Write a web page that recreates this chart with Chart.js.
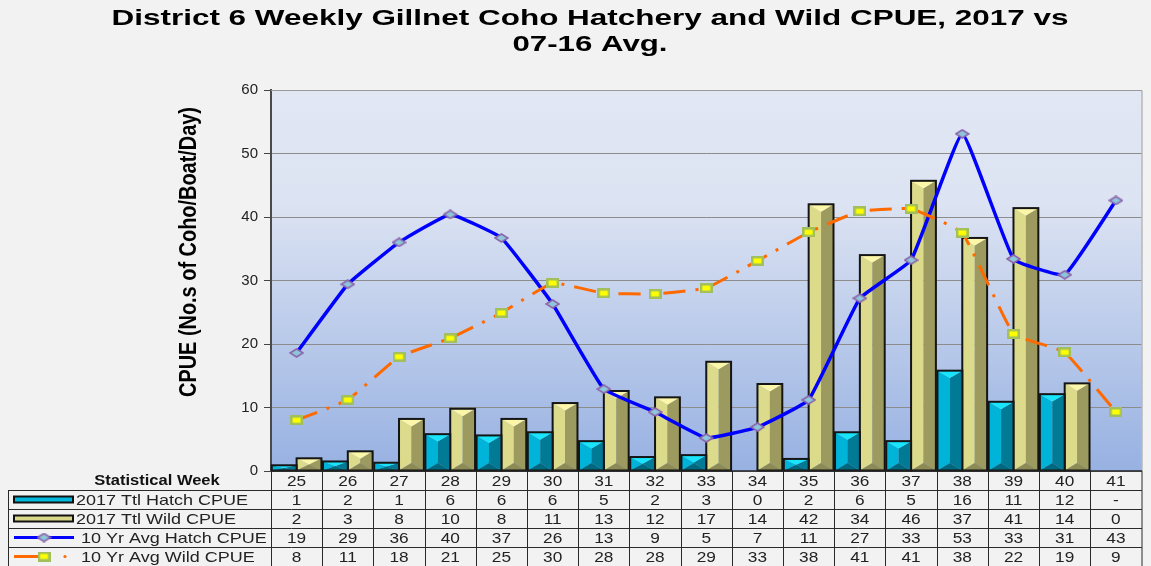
<!DOCTYPE html>
<html>
<head>
<meta charset="utf-8">
<script src="https://cdn.jsdelivr.net/npm/chart.js@4"></script>
<style>
  html, body { margin: 0; padding: 0; background: #f2f2f2; }
</style>
</head>
<body>
<canvas id="coho-cpue" width="1151" height="566"></canvas>
<script>
// statistical weeks and CPUE values
let weeks = [25, 26, 27, 28, 29, 30, 31, 32, 33, 34, 35, 36, 37, 38, 39, 40, 41];
let hatch2017 = [0.9, 1.5, 1.3, 5.8, 5.6, 6.1, 4.7, 2.2, 2.5, 0, 1.9, 6.1, 4.7, 15.8, 10.9, 12.1, null];
let wild2017 = [2.0, 3.1, 8.2, 9.8, 8.2, 10.7, 12.6, 11.6, 17.2, 13.7, 42.0, 34.0, 45.7, 36.7, 41.4, 13.8, 0];
let hatchAvg = [18.6, 29.4, 36.0, 40.4, 36.7, 26.3, 12.9, 9.3, 5.2, 6.9, 11.2, 27.2, 33.2, 53.1, 33.4, 30.9, 42.6];
let wildAvg = [8.0, 11.2, 18.0, 20.9, 24.9, 29.6, 28.0, 27.9, 28.8, 33.1, 37.6, 40.9, 41.3, 37.5, 21.6, 18.7, 9.3];
let yTicks = [0, 10, 20, 30, 40, 50, 60];

let seriesNames = ["2017 Ttl Hatch CPUE", "2017 Ttl Wild CPUE", "10 Yr Avg Hatch CPUE", "10 Yr Avg Wild CPUE"];
let titleLines = ["District 6 Weekly Gillnet Coho Hatchery and Wild CPUE, 2017 vs", "07-16 Avg."];
let yTitle = "CPUE (No.s of Coho/Boat/Day)";
let weekHeader = "Statistical Week";

const FONT = "'Liberation Sans', Arial, sans-serif";

let hatchShade = { left: "#00b3d8", right: "#007a95", top: "#18e4fb", bottom: "#00687f", flat: "#00b8dc" };
let wildShade = { left: "#dcdb8b", right: "#9c9a5e", top: "#fbf6a8", bottom: "#8c8a55", flat: "#d8d78a" };

// little marker pictures for the line series
function diamondMarker() {
  let c = document.createElement("canvas");
  c.width = 15; c.height = 10;
  let g = c.getContext("2d");
  g.beginPath();
  g.moveTo(1, 5); g.lineTo(7.5, 1); g.lineTo(14, 5); g.lineTo(7.5, 9); g.closePath();
  g.fillStyle = "#8ec6dc"; g.fill();
  g.strokeStyle = "#8a64a8"; g.lineWidth = 1.5; g.stroke();
  return c;
}
function squareMarker() {
  let c = document.createElement("canvas");
  c.width = 13; c.height = 10;
  let g = c.getContext("2d");
  g.fillStyle = "#a2bf5c"; g.fillRect(0, 0, 13, 10);
  g.fillStyle = "#ffff00"; g.fillRect(2.5, 2.5, 8, 5);
  return c;
}
let diamondPic = diamondMarker();
let squarePic = squareMarker();

function poly(ctx, pts, color) {
  ctx.beginPath();
  ctx.moveTo(pts[0][0], pts[0][1]);
  for (let k = 1; k < pts.length; k++) ctx.lineTo(pts[k][0], pts[k][1]);
  ctx.closePath();
  ctx.fillStyle = color;
  ctx.fill();
}

function stretchText(ctx, text, x, y, sx, align) {
  ctx.save();
  ctx.translate(x, y);
  ctx.scale(sx, 1);
  ctx.textAlign = align;
  ctx.fillText(text, 0, 0);
  ctx.restore();
}

// background page + plot gradient
let backdrop = {
  id: "backdrop",
  beforeDraw(chart) {
    let ctx = chart.ctx, a = chart.chartArea;
    ctx.save();
    ctx.fillStyle = "#f2f2f2";
    ctx.fillRect(0, 0, chart.width, chart.height);
    let grad = ctx.createLinearGradient(0, a.top, 0, a.bottom);
    grad.addColorStop(0, "#e1e7f3");
    grad.addColorStop(0.3, "#dce3f2");
    grad.addColorStop(1, "#97b1e2");
    ctx.fillStyle = grad;
    ctx.fillRect(a.left, a.top, a.right - a.left, a.bottom - a.top);
    ctx.restore();
  }
};

// 3d-ish bevelled bars on top of the library's bar elements
let bevelBars = {
  id: "bevelBars",
  afterDatasetDraw(chart, args) {
    let meta = args.meta;
    if (meta.type !== "bar") return;
    let ds = chart.data.datasets[args.index];
    let shade = ds.shade;
    let ctx = chart.ctx;
    ctx.save();
    meta.data.forEach((bar, i) => {
      let v = ds.data[i];
      if (v == null || v === 0) return;
      let p = bar.getProps(["x", "y", "base", "width"], true);
      let L = p.x - p.width / 2, R = p.x + p.width / 2;
      let T = Math.min(p.y, p.base), B = Math.max(p.y, p.base);
      let d = Math.min(p.width * 0.3, (B - T) / 2);
      let cx = p.x;
      poly(ctx, [[L, T], [cx, T + d], [cx, B - d], [L, B]], shade.left);
      poly(ctx, [[R, T], [cx, T + d], [cx, B - d], [R, B]], shade.right);
      poly(ctx, [[L, T], [R, T], [cx, T + d]], shade.top);
      poly(ctx, [[L, B], [R, B], [cx, B - d]], shade.bottom);
      ctx.strokeStyle = "#151515";
      ctx.lineWidth = 2;
      ctx.strokeRect(L, T, R - L, B - T);
    });
    ctx.restore();
  }
};

// title, y title, plot frame and data table below the plot
let tableAndText = {
  id: "tableAndText",
  afterDraw(chart) {
    let ctx = chart.ctx, a = chart.chartArea;
    ctx.save();

    // plot frame
    ctx.strokeStyle = "#9a9a9a";
    ctx.lineWidth = 1;
    ctx.beginPath();
    ctx.moveTo(a.left, a.top + 0.5); ctx.lineTo(a.right + 0.5, a.top + 0.5);
    ctx.lineTo(a.right + 0.5, a.bottom);
    ctx.stroke();

    // title
    ctx.fillStyle = "#000";
    ctx.textBaseline = "middle";
    ctx.font = "bold 22px " + FONT;
    let w1 = ctx.measureText(titleLines[0]).width;
    stretchText(ctx, titleLines[0], 590, 19, 957 / w1, "center");
    let w2 = ctx.measureText(titleLines[1]).width;
    stretchText(ctx, titleLines[1], 590, 45, 155 / w2, "center");

    // y axis title
    ctx.save();
    ctx.font = "bold 20px " + FONT;
    ctx.translate(190, 252);
    ctx.rotate(-Math.PI / 2);
    let wy = ctx.measureText(yTitle).width;
    ctx.scale(290 / wy, 1.15);
    ctx.textAlign = "center";
    ctx.fillText(yTitle, 0, 0);
    ctx.restore();

    // table
    let n = weeks.length;
    let colW = (a.right - a.left) / n;
    let rowH = 19;
    let top = a.bottom;
    let tableLeft = 8;
    let right = a.right + 0.5;
    let bottom = top + rowH * 5;

    ctx.strokeStyle = "#2a2a2a";
    ctx.lineWidth = 1;
    ctx.beginPath();
    for (let r = 1; r <= 5; r++) {
      let yy = Math.round(top + r * rowH) + 0.5;
      ctx.moveTo(tableLeft, yy); ctx.lineTo(right, yy);
    }
    ctx.moveTo(tableLeft + 0.5, top + rowH); ctx.lineTo(tableLeft + 0.5, bottom);
    for (let c = 0; c <= n; c++) {
      let xx = Math.round(a.left + c * colW) + 0.5;
      if (c === n) xx = right;
      ctx.moveTo(xx, top); ctx.lineTo(xx, bottom);
    }
    ctx.stroke();

    // x axis line
    ctx.strokeStyle = "#222";
    ctx.lineWidth = 1.5;
    ctx.beginPath();
    ctx.moveTo(a.left, top); ctx.lineTo(right, top);
    ctx.stroke();

    ctx.fillStyle = "#111";
    ctx.font = "bold 14px " + FONT;
    stretchText(ctx, weekHeader, 157, top + rowH / 2 + 1, 1.18, "center");

    let rows = [weeks, hatch2017, wild2017, hatchAvg, wildAvg];
    ctx.fillStyle = "#222";
    ctx.font = "15px " + FONT;
    rows.forEach((vals, r) => {
      let cy = top + r * rowH + rowH / 2 + 1;
      vals.forEach((v, i) => {
        let txt = (v == null) ? "-" : String(Math.round(v));
        stretchText(ctx, txt, a.left + (i + 0.5) * colW, cy, 1.15, "center");
      });
    });

    // legend keys in the label column
    ctx.font = "15px " + FONT;
    seriesNames.forEach((name, r) => {
      let cy = top + (r + 1) * rowH + rowH / 2;
      if (r < 2) {
        let sh = r === 0 ? hatchShade : wildShade;
        ctx.fillStyle = sh.flat;
        ctx.fillRect(14, cy - 3, 59, 6);
        ctx.strokeStyle = "#111";
        ctx.lineWidth = 2;
        ctx.strokeRect(14, cy - 3, 59, 6);
        ctx.fillStyle = "#222";
        stretchText(ctx, name, 76, cy + 1, 1.2, "left");
      } else if (r === 2) {
        ctx.strokeStyle = "#0000ff";
        ctx.lineWidth = 3;
        ctx.beginPath(); ctx.moveTo(14, cy); ctx.lineTo(74, cy); ctx.stroke();
        ctx.drawImage(diamondPic, 44 - 7.5, cy - 5);
        ctx.fillStyle = "#222";
        stretchText(ctx, name, 81, cy + 1, 1.2, "left");
      } else {
        ctx.strokeStyle = "#ff6a00";
        ctx.lineWidth = 3;
        ctx.beginPath(); ctx.moveTo(14, cy); ctx.lineTo(40, cy); ctx.stroke();
        ctx.drawImage(squarePic, 44 - 6.5, cy - 5);
        ctx.fillStyle = "#ff6a00";
        ctx.beginPath(); ctx.arc(65, cy, 1.6, 0, Math.PI * 2); ctx.fill();
        ctx.fillStyle = "#222";
        stretchText(ctx, name, 81, cy + 1, 1.2, "left");
      }
    });

    ctx.restore();
  }
};

let cohoCanvas = document.getElementById("coho-cpue");

let data = {
  labels: weeks.map(String),
  datasets: [
    {
      type: "line",
      label: seriesNames[2],
      data: hatchAvg,
      borderColor: "#0000ff",
      borderWidth: 3.5,
      tension: 0.1,
      pointStyle: diamondPic,
      pointRadius: 6,
      order: 1
    },
    {
      type: "line",
      label: seriesNames[3],
      data: wildAvg,
      borderColor: "#ff6a00",
      borderWidth: 3,
      borderDash: [22, 10, 3, 10],
      tension: 0.1,
      pointStyle: squarePic,
      pointRadius: 6,
      order: 0
    },
    {
      type: "bar",
      label: seriesNames[0],
      data: hatch2017,
      shade: hatchShade,
      backgroundColor: "rgba(0,0,0,0)",
      borderWidth: 0,
      order: 2
    },
    {
      type: "bar",
      label: seriesNames[1],
      data: wild2017,
      shade: wildShade,
      backgroundColor: "rgba(0,0,0,0)",
      borderWidth: 0,
      order: 3
    }
  ]
};

let options = {
  responsive: false,
  animation: false,
  devicePixelRatio: 1,
  layout: { padding: { left: 0, top: 90, right: 2, bottom: 95 } },
  datasets: { bar: { categoryPercentage: 0.97, barPercentage: 1.0 } },
  plugins: {
    legend: { display: false },
    title: { display: false },
    tooltip: { enabled: false }
  },
  scales: {
    x: { display: false },
    y: {
      min: 0,
      max: 60,
      afterFit(scale) { scale.width = 271; },
      afterBuildTicks(scale) { scale.ticks = yTicks.map(v => ({ value: v })); },
      ticks: {
        padding: 6,
        color: "#222",
        font: { family: FONT, size: 15 }
      },
      grid: {
        color: "#8c8c8c",
        lineWidth: 1,
        tickLength: 7,
        tickColor: "#444"
      },
      border: { display: true, color: "#4a4a4a", width: 2 }
    }
  }
};

let cohoChart = new Chart(cohoCanvas, {
  type: "bar",
  data: data,
  options: options,
  plugins: [backdrop, bevelBars, tableAndText]
});
</script>
</body>
</html>
